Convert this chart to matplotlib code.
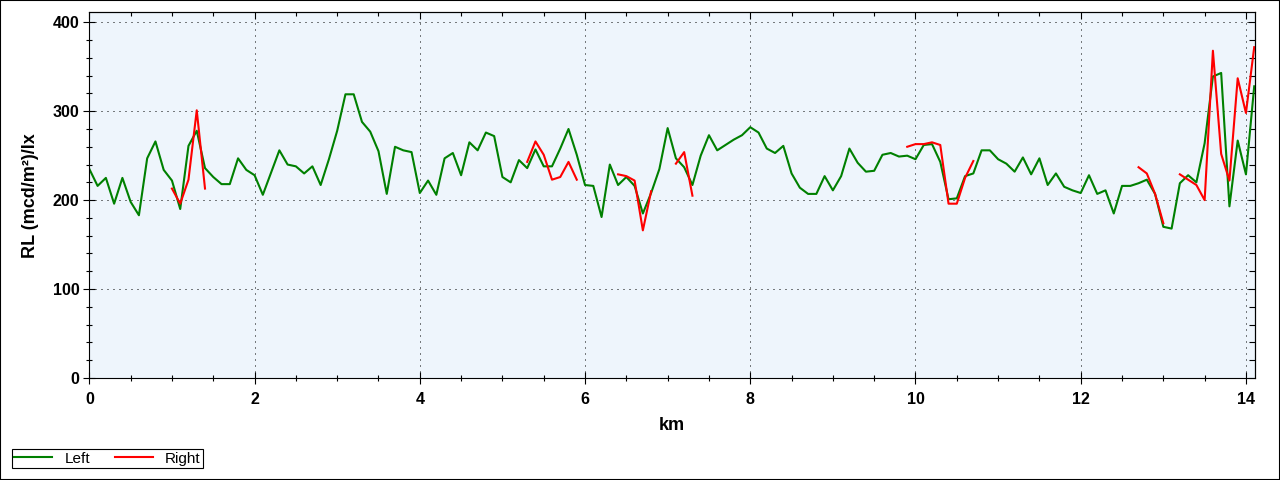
# RL chart - left / right
import matplotlib.pyplot as plt
import numpy as np
from matplotlib.patches import Rectangle
from matplotlib.ticker import MultipleLocator

# du lieu doc tu hinh (moi 0.1 km)
left = [235, 216, 225, 196, 225, 198, 183, 247, 266, 234,
        222, 190, 261, 278, 236, 226, 218, 218, 247, 234,
        228, 206, 231, 256, 240, 238, 230, 238, 217, 246,
        278, 319, 319, 288, 277, 255, 207, 260, 256, 254,
        208, 222, 206, 247, 253, 228, 265, 256, 276, 272,
        226, 220, 245, 236, 257, 238, 238, 258, 280, 251,
        217, 216, 181, 240, 217, 226, 216, 185, 208, 235,
        281, 247, 237, 217, 250, 273, 256, 262, 268, 273,
        282, 276, 258, 253, 261, 230, 214, 207, 207, 227,
        211, 227, 258, 242, 232, 233, 251, 253, 249, 250,
        246, 262, 263, 243, 201, 202, 227, 230, 256, 256,
        246, 241, 232, 248, 229, 247, 217, 230, 215, 211,
        208, 228, 207, 211, 185, 216, 216, 219, 223, 207,
        170, 168, 219, 228, 220, 264, 339, 343, 193, 267,
        229, 328]
km = np.round(np.arange(len(left)) * 0.1, 1)

# doan "Right" : (km bat dau, gia tri)
right_segments = [
    (1.0, [213, 196, 223, 301, 213]),
    (5.3, [243, 266, 251, 223, 226, 243, 223]),
    (6.4, [229, 227, 222, 166, 210]),
    (7.1, [241, 254, 205]),
    (9.9, [260, 263, 263, 265, 262, 196, 196, 225, 244]),
    (12.7, [237, 230, 207, 174]),
    (13.2, [229, 223, 217, 200, 368, 252, 222, 337, 298, 372]),
]

right = np.full(len(left), np.nan)
for start, vals in right_segments:
    i = int(round(start * 10))
    right[i:i + len(vals)] = vals

plt.rcParams['font.family'] = ['Liberation Sans', 'DejaVu Sans']

fig = plt.figure(figsize=(12.8, 4.8), dpi=100)
ax = fig.add_axes([0.0698, 0.2125, 0.9107, 0.7615])
ax.set_facecolor('#eef5fc')

ax.plot(km, left, color='#008000', lw=1.5, label='Left')
ax.plot(km, right, color='#ff0000', lw=1.5, label='Right')

ax.set_xlim(0, 14.11)
ax.set_ylim(0, 411)
ax.xaxis.set_major_locator(MultipleLocator(2))
ax.xaxis.set_minor_locator(MultipleLocator(0.5))
ax.yaxis.set_major_locator(MultipleLocator(100))
ax.yaxis.set_minor_locator(MultipleLocator(20))

# truc
for s in ax.spines.values():
    s.set_linewidth(0.8)
    s.set_color('black')
ax.tick_params(which='both', direction='inout', top=False, right=False,
               labelsize=11.5, width=0.8)
ax.tick_params(which='major', length=8)
ax.tick_params(which='minor', length=5)
ax.tick_params(axis='x', pad=6)
ax.tick_params(axis='y', pad=3)
for lab in ax.get_xticklabels() + ax.get_yticklabels():
    lab.set_fontweight('bold')

# ticks ben trong o tren va ben phai
ax2 = ax.secondary_xaxis('top')
ax2.xaxis.set_major_locator(MultipleLocator(2))
ax2.xaxis.set_minor_locator(MultipleLocator(0.5))
ax2.tick_params(which='both', direction='in', labeltop=False, width=0.8)
ax2.tick_params(which='major', length=5)
ax2.tick_params(which='minor', length=3)
ay2 = ax.secondary_yaxis('right')
ay2.yaxis.set_major_locator(MultipleLocator(100))
ay2.yaxis.set_minor_locator(MultipleLocator(20))
ay2.tick_params(which='both', direction='in', labelright=False, width=0.8)
ay2.tick_params(which='major', length=5)
ay2.tick_params(which='minor', length=4)

ax.grid(True, which='major', color='black', linestyle=(0, (1, 5)), lw=0.72)

ax.set_xlabel('km', fontsize=13, fontweight='bold', labelpad=7)
ax.set_ylabel('RL (mcd/m²)/lx', fontsize=13, fontweight='bold', labelpad=10)

# chu thich
fig.legend(loc='lower left', bbox_to_anchor=(12 / 1280, 12 / 480), ncol=2,
           fontsize=11, frameon=True, fancybox=False, edgecolor='black',
           framealpha=1, borderaxespad=0, borderpad=0.15, handlelength=2.5,
           handletextpad=0.8, columnspacing=1.6).get_frame().set_linewidth(0.8)

# vien ngoai
fig.patches.append(Rectangle((0, 0), 1, 1, transform=fig.transFigure,
                             fill=False, edgecolor='black', lw=1.5))

fig.savefig('out.png', dpi=100)
